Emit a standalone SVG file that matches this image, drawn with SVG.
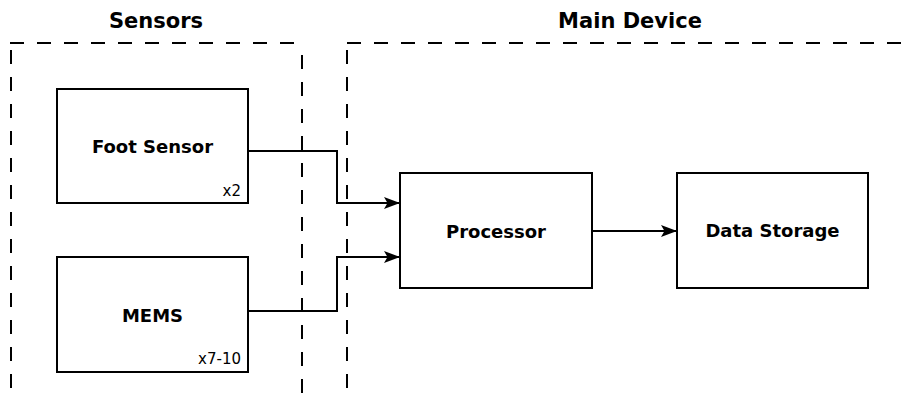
<svg xmlns="http://www.w3.org/2000/svg" width="904" height="407" viewBox="0 0 904 407">
<style>
.title{font-family:"DejaVu Sans",sans-serif;font-weight:bold;font-size:21px;text-anchor:middle;fill:#000}
.lbl{font-family:"DejaVu Sans",sans-serif;font-weight:bold;font-size:18px;text-anchor:middle;fill:#000}
.note{font-family:"DejaVu Sans",sans-serif;font-size:15px;text-anchor:end;fill:#000}
.box{fill:#fff;stroke:#000;stroke-width:2}
.dash{fill:none;stroke:#000;stroke-width:2;stroke-dasharray:14 13}
.conn{fill:none;stroke:#000;stroke-width:2}
</style>
<defs>
<marker id="arr" viewBox="0 0 16 12" refX="15" refY="6" markerWidth="16" markerHeight="12" markerUnits="userSpaceOnUse" orient="auto" overflow="visible">
<path d="M0,0 L16,6 L0,12 L3.5,6 Z" fill="#000"/>
</marker>
</defs>
<g id="sensors-group">
<text class="title" x="156" y="28">Sensors</text>
<path class="dash" d="M10,43 H302"/>
<path class="dash" d="M11,50 V400"/>
<path class="dash" d="M302,55 V400"/>
</g>
<g id="main-device-group">
<text class="title" x="630" y="28">Main Device</text>
<path class="dash" d="M347,43 H904"/>
<path class="dash" d="M347,50 V400"/>
</g>
<g id="connectors">
<path class="conn" d="M248,151 H337 V203 H399" marker-end="url(#arr)"/>
<path class="conn" d="M248,311 H337 V257 H399" marker-end="url(#arr)"/>
<path class="conn" d="M592,231 H676" marker-end="url(#arr)"/>
</g>
<g id="foot-sensor">
<rect class="box" x="57" y="89" width="191" height="114"/>
<text class="lbl" x="152.5" y="153">Foot Sensor</text>
<text class="note" x="241" y="196">x2</text>
</g>
<g id="mems">
<rect class="box" x="57" y="257" width="191" height="115"/>
<text class="lbl" x="152.5" y="322">MEMS</text>
<text class="note" x="241" y="364">x7-10</text>
</g>
<g id="processor">
<rect class="box" x="400" y="173" width="192" height="115"/>
<text class="lbl" x="496" y="238">Processor</text>
</g>
<g id="data-storage">
<rect class="box" x="677" y="173" width="191" height="115"/>
<text class="lbl" x="772.5" y="237">Data Storage</text>
</g>
</svg>
